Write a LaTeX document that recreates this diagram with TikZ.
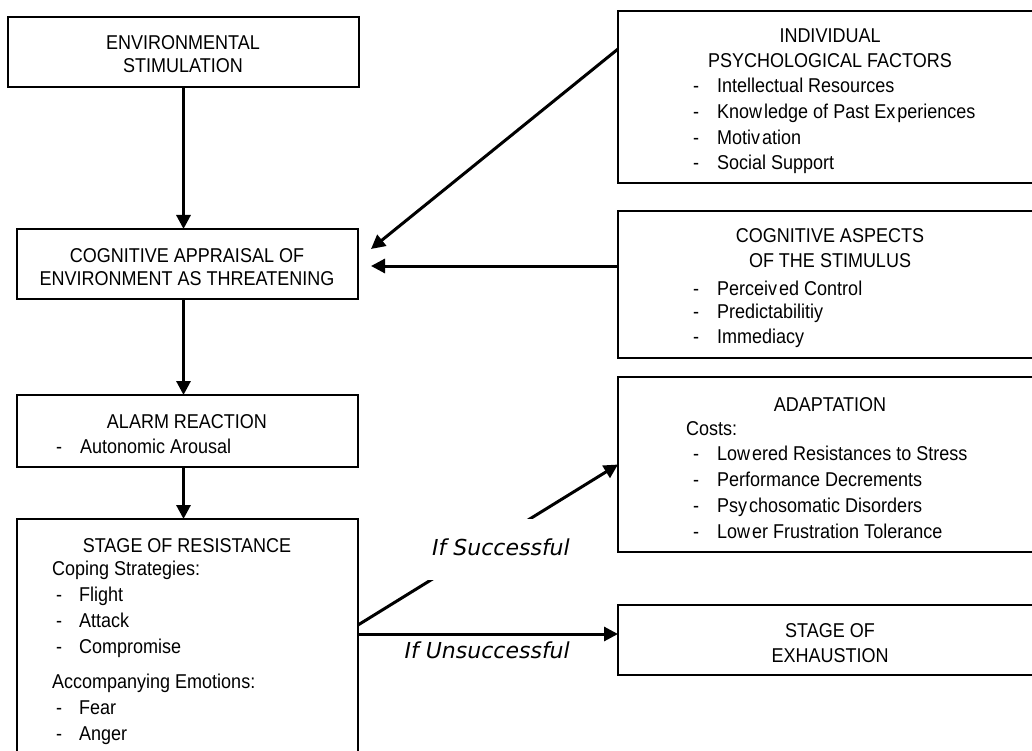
\documentclass[tikz,border=0pt]{standalone}
\usepackage{fontspec}
\setmainfont{Liberation Sans}[FakeStretch=0.9]
\newfontfamily\lblfont{DejaVu Sans}
\usetikzlibrary{arrows.meta,calc}
\newcommand\mfont{\fontsize{20pt}{24pt}\selectfont}
\newcommand\lfont{\lblfont\itshape\fontsize{22pt}{26pt}\selectfont}
\tikzset{
  box/.style={draw=black, line width=1.4pt, rectangle, inner sep=0pt, outer sep=0pt},
  arr/.style={line width=3pt, -{Triangle[length=14pt,width=14pt]}},
  ctr/.style={anchor=base, inner sep=0pt, font=\mfont},
  lft/.style={anchor=base west, inner sep=0pt, font=\mfont},
  lbl/.style={inner sep=0pt, font=\lfont}
}
\begin{document}
\begin{tikzpicture}[x=1pt,y=-1pt]
\useasboundingbox[fill=white] (0,0) rectangle (1032,751);
\begin{scope}
\clip (0,0) rectangle (1032,751);
% boxes
\node[box, minimum width=351pt, minimum height=70pt] (env) at (183.5,52) {};
\node[box, minimum width=341pt, minimum height=70pt] (appr) at (187.5,264) {};
\node[box, minimum width=341pt, minimum height=72pt] (alarm) at (187.5,431) {};
\node[box, minimum width=341pt, minimum height=261pt] (res) at (187.5,649.5) {};
\node[box, minimum width=422pt, minimum height=172pt] (ind) at (829,97) {};
\node[box, minimum width=422pt, minimum height=147pt] (asp) at (829,284.5) {};
\node[box, minimum width=422pt, minimum height=175pt] (adapt) at (829,464.5) {};
\node[box, minimum width=422pt, minimum height=70pt] (exh) at (829,640) {};

% texts left column
\node[ctr] (t-env1) at (183,50) {ENVIRONMENTAL};
\node[ctr] (t-env2) at (183,73) {STIMULATION};
\node[ctr] (t-app1) at (187,262) {COGNITIVE APPRAISAL OF};
\node[ctr] (t-app2) at (187,285) {ENVIRONMENT AS THREATENING};
\node[ctr] (t-al1) at (187,428) {ALARM REACTION};
\node[lft] (t-al2d) at (56,453) {-};
\node[lft] (t-al2) at (80,453) {Autonomic Arousal};
\node[ctr] (t-r1) at (187,552) {STAGE OF RESISTANCE};
\node[lft] (t-r2) at (52,575) {Coping Strategies:};
\node[lft] (t-r3d) at (56,601) {-};
\node[lft] (t-r3) at (79,601) {Flight};
\node[lft] (t-r4d) at (56,627) {-};
\node[lft] (t-r4) at (79,627) {Attack};
\node[lft] (t-r5d) at (56,653) {-};
\node[lft] (t-r5) at (79,653) {Compromise};
\node[lft] (t-r6) at (52,688) {Accompanying Emotions:};
\node[lft] (t-r7d) at (56,714) {-};
\node[lft] (t-r7) at (79,714) {Fear};
\node[lft] (t-r8d) at (56,740) {-};
\node[lft] (t-r8) at (79,740) {Anger};

% texts right column
\node[ctr] (t-i1) at (830,43) {INDIVIDUAL};
\node[ctr] (t-i2) at (830,68) {PSYCHOLOGICAL FACTORS};
\node[lft] (t-i3d) at (693,93) {-};
\node[lft] (t-i3) at (717,93) {Intellectual Resources};
\node[lft] (t-i4d) at (693,119) {-};
\node[lft] (t-i4) at (717,119) {Know\kern2pt ledge of Past Ex\kern2pt periences};
\node[lft] (t-i5d) at (693,145) {-};
\node[lft] (t-i5) at (717,145) {Motiv\kern2pt ation};
\node[lft] (t-i6d) at (693,170) {-};
\node[lft] (t-i6) at (717,170) {Social Support};

\node[ctr] (t-a1) at (830,243) {COGNITIVE ASPECTS};
\node[ctr] (t-a2) at (830,267) {OF THE STIMULUS};
\node[lft] (t-a3d) at (693,295) {-};
\node[lft] (t-a3) at (717,295) {Perceiv\kern2pt ed Control};
\node[lft] (t-a4d) at (693,318) {-};
\node[lft] (t-a4) at (717,318) {Predictabilitiy};
\node[lft] (t-a5d) at (693,343) {-};
\node[lft] (t-a5) at (717,343) {Immediacy};

\node[ctr] (t-d1) at (830,411) {ADAPTATION};
\node[lft] (t-d2) at (686,435) {Costs:};
\node[lft] (t-d3d) at (693,460) {-};
\node[lft] (t-d3) at (717,460) {Low\kern2pt ered Resistances to Stress};
\node[lft] (t-d4d) at (693,486) {-};
\node[lft] (t-d4) at (717,486) {Performance Decrements};
\node[lft] (t-d5d) at (693,512) {-};
\node[lft] (t-d5) at (717,512) {Psy\kern2pt chosomatic Disorders};
\node[lft] (t-d6d) at (693,538) {-};
\node[lft] (t-d6) at (717,538) {Low\kern2pt er Frustration Tolerance};

\node[ctr] (t-e1) at (830,637) {STAGE OF};
\node[ctr] (t-e2) at (830,662) {EXHAUSTION};

% connectors
\draw[arr] (env.south) -- (env.south |- appr.north);
\draw[arr] (appr.south -| env.south) -- (env.south |- alarm.north);
\draw[arr] (alarm.south -| env.south) -- (env.south |- res.north);

\coordinate (tip1) at (371,249);
\coordinate (tip2) at (371,266);
\draw[arr] ($(ind.north west)+(0,38)$) -- (tip1);
\draw[arr] (asp.west |- tip2) -- (tip2);

\coordinate (s1) at ($(res.north east)+(0,106)$);
\coordinate (s2) at ($(res.north east)+(0,115)$);
\draw[arr] (s1) -- (adapt.west);
\draw[arr] (s2) -- (exh.west |- s2);

\node[lbl, fill=white, inner xsep=4pt, text height=16pt, text depth=4pt, minimum height=61pt, anchor=east] (l-succ) at (574,549.5) {If Successful};
\node[lbl, anchor=base east] (l-uns) at (570,658) {If Unsuccessful};
\end{scope}
\end{tikzpicture}
\end{document}
